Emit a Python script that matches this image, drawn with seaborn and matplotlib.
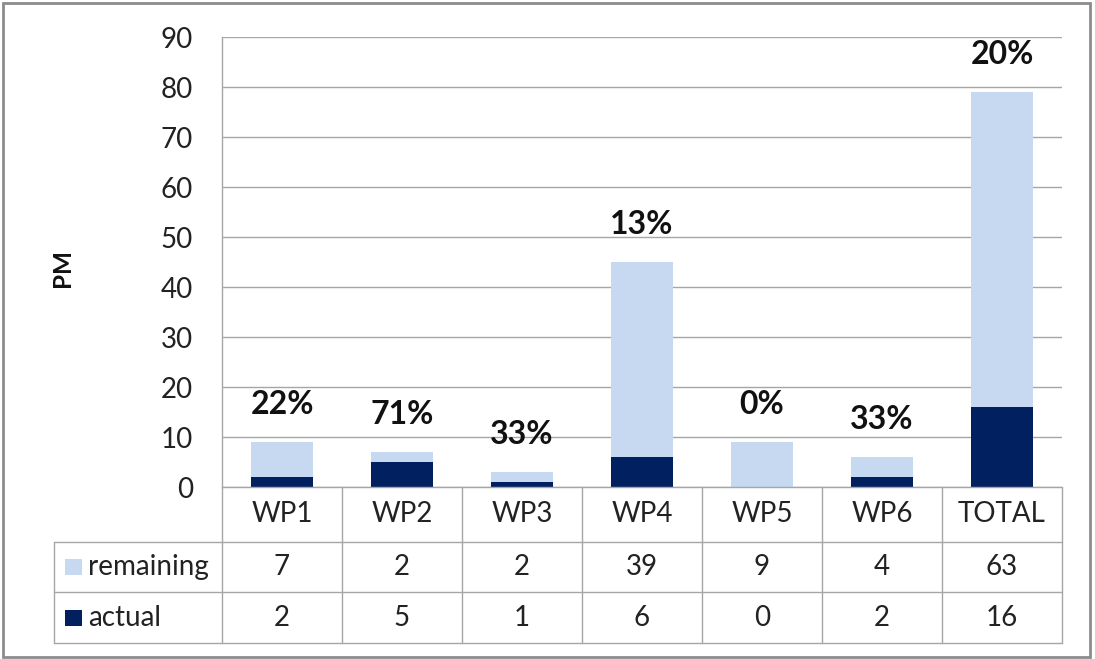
import matplotlib
matplotlib.use("Agg")
import matplotlib.pyplot as plt
import matplotlib.patches as mpatches
import numpy as np
import pandas as pd
import seaborn as sns


CATEGORIES = ["WP1", "WP2", "WP3", "WP4", "WP5", "WP6", "TOTAL"]
REMAINING = [7, 2, 2, 39, 9, 4, 63]
ACTUAL = [2, 5, 1, 6, 0, 2, 16]
Y_TICKS = [0, 10, 20, 30, 40, 50, 60, 70, 80, 90]
Y_LABEL = "PM"
SERIES_NAMES = ["remaining", "actual"]

LIGHT = "#C6D9F1"
DARK = "#002060"
GRID = "#A6A6A6"
FONT = "Lato"

W, H = 1095, 659


def fig_box(x0, y0, x1, y1):
    # pixel box (top-left origin) -> figure fraction
    return [x0 / W, (H - y1) / H, (x1 - x0) / W, (y1 - y0) / H]


def main():
    sns.set_theme(style="white")
    plt.rcParams["font.family"] = [FONT, "DejaVu Sans"]

    df = pd.DataFrame({"cat": CATEGORIES, "remaining": REMAINING, "actual": ACTUAL})
    df["total"] = df["remaining"] + df["actual"]
    df["pct"] = (df["actual"] / df["total"] * 100).round().astype(int)

    fig = plt.figure(figsize=(W / 100, H / 100), dpi=100)

    # outer border
    fig.patches.append(mpatches.Rectangle((3 / W, 2 / H), 1087 / W, 654 / H,
                                          transform=fig.transFigure, fill=False,
                                          edgecolor="#8C8C8C", linewidth=2))

    ax = fig.add_axes(fig_box(222, 37, 1062, 487))
    sns.barplot(data=df, x="cat", y="total", color=LIGHT, width=0.52,
                saturation=1, linewidth=0, ax=ax, zorder=3)
    sns.barplot(data=df, x="cat", y="actual", color=DARK, width=0.52,
                saturation=1, linewidth=0, ax=ax, zorder=4)

    ax.set_xlim(-0.5, len(CATEGORIES) - 0.5)
    ax.set_ylim(0, 90)
    ax.set_yticks(Y_TICKS)
    ax.set_yticklabels([str(t) for t in Y_TICKS], fontsize=20, color="#222222")
    ax.tick_params(axis="y", length=0, pad=21)
    ax.set_xticks([])
    ax.set_xlabel("")
    ax.set_ylabel("")
    ax.yaxis.grid(True, color=GRID, linewidth=1)
    ax.set_axisbelow(True)
    for side in ["top", "right", "bottom"]:
        ax.spines[side].set_visible(False)
    ax.spines["left"].set_color(GRID)
    ax.spines["left"].set_linewidth(1)

    for i, row in df.iterrows():
        ax.annotate(f"{row['pct']}%", (i, row["total"]), xytext=(0, 27),
                    textcoords="offset points", ha="center", va="center",
                    fontsize=23, fontweight="bold", color="#111111",
                    annotation_clip=False, zorder=5)

    fig.text(62 / W, (H - 268) / H, Y_LABEL, rotation=90, ha="center", va="center",
             fontsize=17.5, fontweight="bold", color="#111111")

    # data table
    n = len(CATEGORIES)
    left_w = 168 / 120
    tx = fig.add_axes(fig_box(54, 487, 1062, 643))
    tx.set_xlim(-0.5 - left_w, n - 0.5)
    tx.set_ylim(156, 0)
    tx.axis("off")
    rows = [0, 55, 105, 156]
    lc = dict(color=GRID, linewidth=1, clip_on=False)

    # horizontal lines
    tx.plot([-0.5, n - 0.5], [rows[0], rows[0]], **lc)
    for r in rows[1:]:
        tx.plot([-0.5 - left_w, n - 0.5], [r, r], **lc)
    # vertical lines
    for k in range(n + 1):
        tx.plot([k - 0.5, k - 0.5], [rows[0], rows[3]], **lc)
    tx.plot([-0.5 - left_w] * 2, [rows[1], rows[3]], **lc)

    for i, cat in enumerate(CATEGORIES):
        tx.text(i, (rows[0] + rows[1]) / 2, cat, ha="center", va="center",
                fontsize=20, color="#222222")
        tx.text(i, (rows[1] + rows[2]) / 2, str(REMAINING[i]), ha="center",
                va="center", fontsize=20, color="#222222")
        tx.text(i, (rows[2] + rows[3]) / 2, str(ACTUAL[i]), ha="center",
                va="center", fontsize=20, color="#222222")

    for j, (name, col) in enumerate(zip(SERIES_NAMES, [LIGHT, DARK])):
        yc = (rows[j + 1] + rows[j + 2]) / 2
        x0 = -0.5 - left_w + 11 / 120
        tx.add_patch(mpatches.Rectangle((x0, yc - 8), 17 / 120, 16,
                                        facecolor=col, edgecolor="none", clip_on=False))
        tx.text(x0 + 23 / 120, yc, name, ha="left", va="center",
                fontsize=20, color="#222222")

    fig.savefig("out.png", dpi=100)
    plt.close(fig)


if __name__ == "__main__":
    main()
